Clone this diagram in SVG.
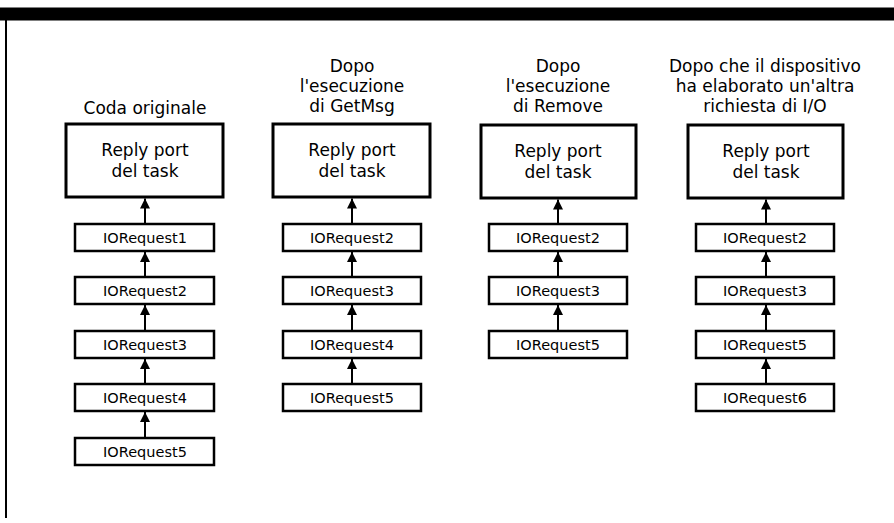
<svg xmlns="http://www.w3.org/2000/svg" width="894" height="523" viewBox="0 0 894 523">
<style>
  .t{font-family:"DejaVu Sans","Liberation Sans",sans-serif;fill:#000;text-anchor:middle}
  .title{font-size:17px}
  .big{fill:#fff;stroke:#000;stroke-width:3}
  .sm{fill:#fff;stroke:#000;stroke-width:2.5}
  .bl{font-size:17px}
  .sl{font-size:14.5px}
  .c{stroke:#000;stroke-width:2;fill:none;marker-end:url(#ah)}
</style>
<defs>
  <marker id="ah" markerUnits="userSpaceOnUse" markerWidth="11" markerHeight="10" refX="10" refY="5" orient="auto">
    <path d="M0,0 L10,5 L0,10 z" fill="#000"/>
  </marker>
</defs>
<rect x="0" y="0" width="894" height="523" fill="#fff"/>
<g id="frame">
  <rect x="0" y="7.5" width="894" height="13" fill="#000"/>
  <line x1="6" y1="20" x2="6" y2="518" stroke="#000" stroke-width="2"/>
</g>

<g id="titles">
  <text class="t title" x="145" y="114">Coda originale</text>
  <text class="t title" x="352" y="72">Dopo</text>
  <text class="t title" x="352" y="92">l'esecuzione</text>
  <text class="t title" x="352" y="112">di GetMsg</text>
  <text class="t title" x="558" y="72">Dopo</text>
  <text class="t title" x="558" y="92">l'esecuzione</text>
  <text class="t title" x="558" y="112">di Remove</text>
  <text class="t title" x="765" y="72">Dopo che il dispositivo</text>
  <text class="t title" x="765" y="92">ha elaborato un'altra</text>
  <text class="t title" x="765" y="112">richiesta di I/O</text>
</g>

<!-- Column 1 -->
<g id="c1-port"><rect class="big" x="66" y="124" width="157" height="73"/><text class="t bl" x="145" y="156">Reply port</text><text class="t bl" x="145" y="177">del task</text></g>
<g id="c1-r1"><rect class="sm" x="75" y="224" width="139" height="27"/><text class="t sl" x="145" y="243">IORequest1</text></g>
<g id="c1-r2"><rect class="sm" x="75" y="277" width="139" height="27"/><text class="t sl" x="145" y="296">IORequest2</text></g>
<g id="c1-r3"><rect class="sm" x="75" y="331" width="139" height="27"/><text class="t sl" x="145" y="350">IORequest3</text></g>
<g id="c1-r4"><rect class="sm" x="75" y="384" width="139" height="27"/><text class="t sl" x="145" y="403">IORequest4</text></g>
<g id="c1-r5"><rect class="sm" x="75" y="438" width="139" height="27"/><text class="t sl" x="145" y="457">IORequest5</text></g>

<!-- Column 2 -->
<g id="c2-port"><rect class="big" x="273" y="124" width="157" height="73"/><text class="t bl" x="352" y="156">Reply port</text><text class="t bl" x="352" y="177">del task</text></g>
<g id="c2-r2"><rect class="sm" x="283" y="224" width="138" height="27"/><text class="t sl" x="352" y="243">IORequest2</text></g>
<g id="c2-r3"><rect class="sm" x="283" y="277" width="138" height="27"/><text class="t sl" x="352" y="296">IORequest3</text></g>
<g id="c2-r4"><rect class="sm" x="283" y="331" width="138" height="27"/><text class="t sl" x="352" y="350">IORequest4</text></g>
<g id="c2-r5"><rect class="sm" x="283" y="384" width="138" height="27"/><text class="t sl" x="352" y="403">IORequest5</text></g>

<!-- Column 3 -->
<g id="c3-port"><rect class="big" x="481" y="125" width="155" height="73"/><text class="t bl" x="558" y="157">Reply port</text><text class="t bl" x="558" y="178">del task</text></g>
<g id="c3-r2"><rect class="sm" x="489" y="224" width="138" height="27"/><text class="t sl" x="558" y="243">IORequest2</text></g>
<g id="c3-r3"><rect class="sm" x="489" y="277" width="138" height="27"/><text class="t sl" x="558" y="296">IORequest3</text></g>
<g id="c3-r5"><rect class="sm" x="489" y="331" width="138" height="27"/><text class="t sl" x="558" y="350">IORequest5</text></g>

<!-- Column 4 -->
<g id="c4-port"><rect class="big" x="688" y="125" width="155" height="73"/><text class="t bl" x="766" y="157">Reply port</text><text class="t bl" x="766" y="178">del task</text></g>
<g id="c4-r2"><rect class="sm" x="696" y="224" width="138" height="27"/><text class="t sl" x="765" y="243">IORequest2</text></g>
<g id="c4-r3"><rect class="sm" x="696" y="277" width="138" height="27"/><text class="t sl" x="765" y="296">IORequest3</text></g>
<g id="c4-r5"><rect class="sm" x="696" y="331" width="138" height="27"/><text class="t sl" x="765" y="350">IORequest5</text></g>
<g id="c4-r6"><rect class="sm" x="696" y="384" width="138" height="27"/><text class="t sl" x="765" y="403">IORequest6</text></g>

<g id="connectors">
  <line class="c" x1="145" y1="223" x2="145" y2="198.5"/>
  <line class="c" x1="145" y1="276" x2="145" y2="252"/>
  <line class="c" x1="145" y1="330" x2="145" y2="305"/>
  <line class="c" x1="145" y1="383" x2="145" y2="359"/>
  <line class="c" x1="145" y1="437" x2="145" y2="412"/>

  <line class="c" x1="352" y1="223" x2="352" y2="198.5"/>
  <line class="c" x1="352" y1="276" x2="352" y2="252"/>
  <line class="c" x1="352" y1="330" x2="352" y2="305"/>
  <line class="c" x1="352" y1="383" x2="352" y2="359"/>

  <line class="c" x1="558" y1="223" x2="558" y2="199.5"/>
  <line class="c" x1="558" y1="276" x2="558" y2="252"/>
  <line class="c" x1="558" y1="330" x2="558" y2="305"/>

  <line class="c" x1="766" y1="223" x2="766" y2="199.5"/>
  <line class="c" x1="766" y1="276" x2="766" y2="252"/>
  <line class="c" x1="766" y1="330" x2="766" y2="305"/>
  <line class="c" x1="766" y1="383" x2="766" y2="359"/>
</g>
</svg>
